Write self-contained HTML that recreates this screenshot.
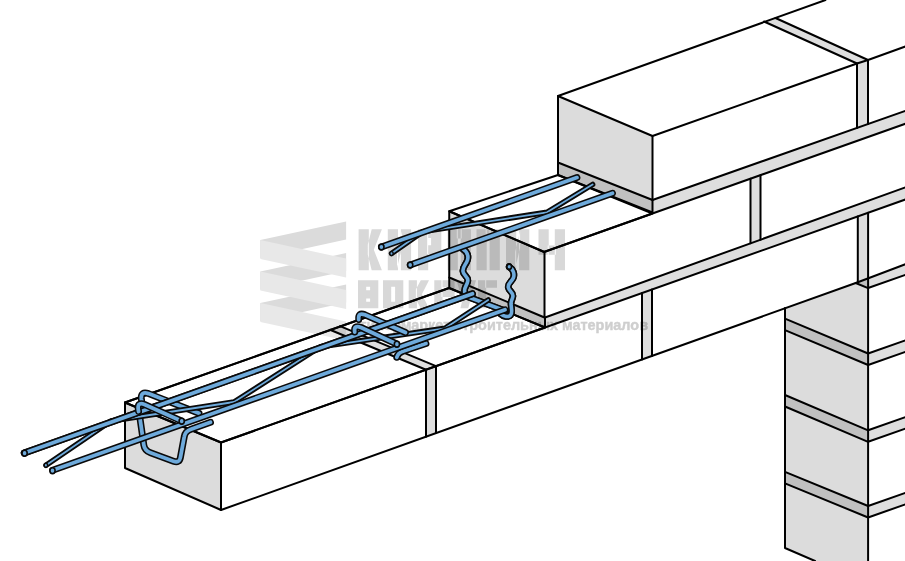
<!DOCTYPE html>
<html><head><meta charset="utf-8"><title>diagram</title>
<style>
html,body{margin:0;padding:0;background:#fff;}
body{width:905px;height:561px;overflow:hidden;font-family:"Liberation Sans",sans-serif;}
svg{display:block;}
</style></head><body>
<svg width="905" height="561" viewBox="0 0 905 561">
<rect width="905" height="561" fill="#fff"/>
<g id="blocks">
<polygon points="125.00,402.50 221.00,442.50 545.00,327.48 449.00,288.00" fill="#fff"/>
<polygon points="125.00,402.50 221.00,442.50 221.00,510.00 125.00,468.00" fill="#dcdcdc"/>
<polygon points="785.00,308.00 857.80,282.30 868.10,278.70 868.10,561.00 815.00,561.00 785.00,548.00" fill="#dcdcdc"/>
<polygon points="785.00,318.70 868.10,353.50 868.10,365.00 785.00,330.20" fill="#c0c0c0"/>
<polygon points="868.10,353.50 905.00,340.11 905.00,351.61 868.10,365.00" fill="#dedede"/>
<polygon points="785.00,395.00 868.10,430.30 868.10,441.80 785.00,406.50" fill="#c0c0c0"/>
<polygon points="868.10,430.30 905.00,416.91 905.00,428.41 868.10,441.80" fill="#dedede"/>
<polygon points="785.00,471.80 868.10,506.00 868.10,517.50 785.00,483.30" fill="#c0c0c0"/>
<polygon points="868.10,506.00 905.00,492.61 905.00,504.11 868.10,517.50" fill="#dedede"/>
<polygon points="868.10,278.70 905.00,264.00 905.00,274.80 868.10,288.00" fill="#dedede"/>
<polygon points="426.00,369.73 436.00,366.18 436.00,433.12 426.00,436.70" fill="#dedede"/>
<polygon points="642.00,293.05 652.00,289.50 652.00,355.89 642.00,359.46" fill="#dedede"/>
<polygon points="857.80,216.44 868.10,212.78 868.10,278.70 857.80,282.30" fill="#dedede"/>
<polygon points="855.70,283.00 868.10,278.70 868.10,288.20" fill="#c0c0c0"/>
<polygon points="426.00,369.73 436.00,366.18 340.00,326.18 330.00,329.73" fill="#dedede"/>
<polygon points="545.00,317.50 905.00,187.50 905.00,199.68 545.00,327.48" fill="#dedede"/>
<polygon points="449.25,277.50 545.00,317.50 545.00,327.48 449.25,288.00" fill="#c0c0c0"/>
<polygon points="449.25,211.25 544.00,252.00 652.50,213.48 558.00,175.00" fill="#fff"/>
<polygon points="449.25,211.25 544.50,252.00 544.50,317.50 449.25,277.50" fill="#dcdcdc"/>
<polygon points="750.50,178.69 760.50,175.14 760.50,239.68 750.50,243.29" fill="#dedede"/>
<polygon points="652.50,200.00 905.00,111.00 905.00,123.84 652.50,213.48" fill="#dedede"/>
<polygon points="558.00,162.50 652.50,200.00 652.50,212.50 558.00,175.00" fill="#c0c0c0"/>
<polygon points="857.00,63.50 868.00,60.00 775.50,18.00 764.00,21.50" fill="#dedede"/>
<polygon points="558.00,96.00 652.50,136.00 652.50,200.00 558.00,162.50" fill="#dcdcdc"/>
<polygon points="857.00,63.50 868.00,60.00 868.00,124.04 857.00,127.92" fill="#dedede"/>
<polygon points="125.00,402.50 221.00,442.50 545.00,327.48 449.00,288.00" fill="none" stroke="#000" stroke-width="2.0" stroke-linejoin="round"/>
<polygon points="125.00,402.50 221.00,442.50 221.00,510.00 125.00,468.00" fill="none" stroke="#000" stroke-width="2.0" stroke-linejoin="round"/>
<polyline points="785.00,318.70 868.10,353.50" fill="none" stroke="#000" stroke-width="2.0" stroke-linecap="round" stroke-linejoin="round"/>
<polyline points="785.00,330.20 868.10,365.00" fill="none" stroke="#000" stroke-width="2.0" stroke-linecap="round" stroke-linejoin="round"/>
<polyline points="868.10,353.50 906.00,340.11" fill="none" stroke="#000" stroke-width="2.0" stroke-linecap="round" stroke-linejoin="round"/>
<polyline points="868.10,365.00 906.00,351.61" fill="none" stroke="#000" stroke-width="2.0" stroke-linecap="round" stroke-linejoin="round"/>
<polyline points="785.00,395.00 868.10,430.30" fill="none" stroke="#000" stroke-width="2.0" stroke-linecap="round" stroke-linejoin="round"/>
<polyline points="785.00,406.50 868.10,441.80" fill="none" stroke="#000" stroke-width="2.0" stroke-linecap="round" stroke-linejoin="round"/>
<polyline points="868.10,430.30 906.00,416.91" fill="none" stroke="#000" stroke-width="2.0" stroke-linecap="round" stroke-linejoin="round"/>
<polyline points="868.10,441.80 906.00,428.41" fill="none" stroke="#000" stroke-width="2.0" stroke-linecap="round" stroke-linejoin="round"/>
<polyline points="785.00,471.80 868.10,506.00" fill="none" stroke="#000" stroke-width="2.0" stroke-linecap="round" stroke-linejoin="round"/>
<polyline points="785.00,483.30 868.10,517.50" fill="none" stroke="#000" stroke-width="2.0" stroke-linecap="round" stroke-linejoin="round"/>
<polyline points="868.10,506.00 906.00,492.61" fill="none" stroke="#000" stroke-width="2.0" stroke-linecap="round" stroke-linejoin="round"/>
<polyline points="868.10,517.50 906.00,504.11" fill="none" stroke="#000" stroke-width="2.0" stroke-linecap="round" stroke-linejoin="round"/>
<polyline points="785.00,308.00 785.00,548.00 815.00,561.00" fill="none" stroke="#000" stroke-width="2.0" stroke-linecap="round" stroke-linejoin="round"/>
<polyline points="868.10,288.00 906.00,274.60" fill="none" stroke="#000" stroke-width="2.0" stroke-linecap="round" stroke-linejoin="round"/>
<polyline points="426.00,369.73 426.00,436.70" fill="none" stroke="#000" stroke-width="2.0" stroke-linecap="round" stroke-linejoin="round"/>
<polyline points="436.00,366.18 436.00,433.12" fill="none" stroke="#000" stroke-width="2.0" stroke-linecap="round" stroke-linejoin="round"/>
<polyline points="642.00,293.05 642.00,359.46" fill="none" stroke="#000" stroke-width="2.0" stroke-linecap="round" stroke-linejoin="round"/>
<polyline points="652.00,289.50 652.00,355.89" fill="none" stroke="#000" stroke-width="2.0" stroke-linecap="round" stroke-linejoin="round"/>
<polyline points="857.80,216.44 857.80,282.30" fill="none" stroke="#000" stroke-width="2.0" stroke-linecap="round" stroke-linejoin="round"/>
<polyline points="855.70,283.00 868.10,288.20" fill="none" stroke="#000" stroke-width="2.0" stroke-linecap="round" stroke-linejoin="round"/>
<polyline points="221.00,510.00 857.80,282.30 906.00,264.00" fill="none" stroke="#000" stroke-width="2.0" stroke-linecap="round" stroke-linejoin="round"/>
<polyline points="868.10,212.78 868.10,562.00" fill="none" stroke="#000" stroke-width="2.0" stroke-linecap="round" stroke-linejoin="round"/>
<polyline points="426.00,369.73 330.00,329.73" fill="none" stroke="#000" stroke-width="2.0" stroke-linecap="round" stroke-linejoin="round"/>
<polyline points="436.00,366.18 340.00,326.18" fill="none" stroke="#000" stroke-width="2.0" stroke-linecap="round" stroke-linejoin="round"/>
<polygon points="449.25,211.25 544.00,252.00 652.50,213.48 558.00,175.00" fill="none" stroke="#000" stroke-width="2.0" stroke-linejoin="round"/>
<polygon points="449.25,211.25 544.50,252.00 544.50,317.50 449.25,277.50" fill="none" stroke="#000" stroke-width="2.0" stroke-linejoin="round"/>
<polyline points="449.25,277.50 449.25,288.00 545.00,327.48 545.00,317.50" fill="none" stroke="#000" stroke-width="2.0" stroke-linecap="round" stroke-linejoin="round"/>
<polyline points="545.00,317.50 906.00,187.20" fill="none" stroke="#000" stroke-width="2.0" stroke-linecap="round" stroke-linejoin="round"/>
<polyline points="221.00,442.50 906.00,199.33" fill="none" stroke="#000" stroke-width="2.0" stroke-linecap="round" stroke-linejoin="round"/>
<polyline points="125.00,402.50 449.25,288.00" fill="none" stroke="#000" stroke-width="2.0" stroke-linecap="round" stroke-linejoin="round"/>
<polyline points="750.50,178.69 750.50,243.29" fill="none" stroke="#000" stroke-width="2.0" stroke-linecap="round" stroke-linejoin="round"/>
<polyline points="760.50,175.14 760.50,239.68" fill="none" stroke="#000" stroke-width="2.0" stroke-linecap="round" stroke-linejoin="round"/>
<polyline points="825.50,0.00 558.00,96.00" fill="none" stroke="#000" stroke-width="2.0" stroke-linecap="round" stroke-linejoin="round"/>
<polyline points="652.50,136.00 857.00,63.50 868.00,60.00 906.00,46.20" fill="none" stroke="#000" stroke-width="2.0" stroke-linecap="round" stroke-linejoin="round"/>
<polyline points="857.00,63.50 764.00,21.50" fill="none" stroke="#000" stroke-width="2.0" stroke-linecap="round" stroke-linejoin="round"/>
<polyline points="868.00,60.00 775.50,18.00" fill="none" stroke="#000" stroke-width="2.0" stroke-linecap="round" stroke-linejoin="round"/>
<polygon points="558.00,96.00 652.50,136.00 652.50,200.00 558.00,162.50" fill="none" stroke="#000" stroke-width="2.0" stroke-linejoin="round"/>
<polyline points="558.00,162.50 558.00,175.00 652.50,212.50 652.50,200.00" fill="none" stroke="#000" stroke-width="2.0" stroke-linecap="round" stroke-linejoin="round"/>
<polyline points="652.50,200.00 906.00,110.60" fill="none" stroke="#000" stroke-width="2.0" stroke-linecap="round" stroke-linejoin="round"/>
<polyline points="544.00,252.00 906.00,123.49" fill="none" stroke="#000" stroke-width="2.0" stroke-linecap="round" stroke-linejoin="round"/>
<polyline points="857.00,63.50 857.00,127.92" fill="none" stroke="#000" stroke-width="2.0" stroke-linecap="round" stroke-linejoin="round"/>
<polyline points="868.00,60.00 868.00,124.04" fill="none" stroke="#000" stroke-width="2.0" stroke-linecap="round" stroke-linejoin="round"/>
</g>
<g id="watermark" style="mix-blend-mode:multiply" aria-label="КИРПИЧ ВОКРУГ — гипермаркет строительных материалов">
<polygon points="346.1,221.6 260.4,240.1 260.4,258.2 346.1,239.6" fill="#dbdbdb"/>
<polygon points="346.1,253.1 260.4,271.6 260.4,289.7 346.1,271.1" fill="#dbdbdb"/>
<polygon points="346.1,284.6 260.4,303.1 260.4,321.2 346.1,302.6" fill="#dbdbdb"/>
<polygon points="260.4,240.1 346.1,258.6 346.1,277.6 260.4,259.1" fill="#e8e8e8"/>
<polygon points="260.4,271.6 346.1,290.1 346.1,309.1 260.4,290.6" fill="#e8e8e8"/>
<polygon points="260.4,303.1 346.1,321.6 346.1,340.6 260.4,322.1" fill="#e8e8e8"/>
<path d="M358.60,229.30h10.20v41.00h-10.20zM367.80,244.80L371.70,229.30L381.90,229.30L373.80,249.80L381.90,270.30L371.70,270.30L367.80,254.80zM387.80,229.30h10.20v41.00h-10.20zM400.90,229.30h10.20v41.00h-10.20zM397.00,268.30L397.00,251.85L401.90,231.30L401.90,247.75zM418.00,229.30h10.20v41.00h-10.20zM427.20,229.30h14.10v24.60h-14.10zM428.20,237.97h2.90v7.26h-2.90zM447.60,229.30h10.20v41.00h-10.20zM460.70,229.30h10.20v41.00h-10.20zM456.80,229.30h4.90v9.18h-4.90zM476.50,229.30h10.20v41.00h-10.20zM489.60,229.30h10.20v41.00h-10.20zM485.70,229.30h4.90v9.18h-4.90zM506.00,229.30h10.20v41.00h-10.20zM519.10,229.30h10.20v41.00h-10.20zM515.20,268.30L515.20,251.85L520.10,231.30L520.10,247.75zM538.50,229.30h10.20v25.42h-10.20zM554.80,229.30h10.20v41.00h-10.20zM547.70,245.54h8.10v9.18h-8.10zM358.00,280.30h20.30v28.00h-20.30zM366.20,286.86h3.90v3.34h-3.90zM366.20,298.40h3.90v3.34h-3.90zM383.00,280.30h20.30v28.00h-20.30zM391.20,286.86h3.90v14.88h-3.90zM408.70,280.30h8.20v28.00h-8.20zM415.90,289.30L420.80,280.30L429.00,280.30L421.90,294.30L429.00,308.30L420.80,308.30L415.90,299.30zM434.30,280.30h8.20v28.00h-8.20zM441.50,280.30h13.10v16.80h-13.10zM442.50,287.27h3.90v2.86h-3.90zM456.50,280.30L464.70,280.30L466.25,294.30L467.80,280.30L476.00,280.30L468.20,308.30L460.40,308.30L462.35,300.46zM478.00,280.30h8.20v28.00h-8.20zM485.20,280.30h11.80v7.38h-11.80z" fill="#d8d8d8" fill-rule="evenodd"/>
<text x="360.5" y="330.2" font-family="Liberation Sans, sans-serif" font-weight="bold" font-size="15" fill="#cfcfcf" stroke="#cfcfcf" stroke-width="0.45" textLength="287.5" lengthAdjust="spacingAndGlyphs">гипермаркет строительных материалов</text>
</g>
<g id="rebar">
<path d="M210.5,422.3 L191,429.2 Q185,431.4 184.3,436.5 L180.4,457.5 Q179.4,463.3 173.5,461.2 L150.5,452.8 Q144.6,450.6 143.8,445 L138.8,410" fill="none" stroke="#0a0a0a" stroke-width="6.9" stroke-linecap="round" stroke-linejoin="round"/>
<path d="M210.5,422.3 L191,429.2 Q185,431.4 184.3,436.5 L180.4,457.5 Q179.4,463.3 173.5,461.2 L150.5,452.8 Q144.6,450.6 143.8,445 L138.8,410" fill="none" stroke="#6eaadb" stroke-width="3.8" stroke-linecap="round" stroke-linejoin="round"/>
<path d="M141.8,402 L141.3,398.5 Q140.8,391 148.5,393.6 L199,413.3" fill="none" stroke="#0a0a0a" stroke-width="6.9" stroke-linecap="round" stroke-linejoin="round"/>
<path d="M141.8,402 L141.3,398.5 Q140.8,391 148.5,393.6 L199,413.3" fill="none" stroke="#6eaadb" stroke-width="3.8" stroke-linecap="round" stroke-linejoin="round"/>
<path d="M464.8,295.7 L505,310.8" fill="none" stroke="#0a0a0a" stroke-width="6.7" stroke-linecap="round" stroke-linejoin="round"/>
<path d="M464.8,295.7 L505,310.8" fill="none" stroke="#6eaadb" stroke-width="3.6" stroke-linecap="round" stroke-linejoin="round"/>
<path d="M462.4,248.6 C466,251 469,255 467.5,260 C466,265 462.3,266.5 463,271.5 C463.7,276 468.5,276.5 467.8,281 C467.2,285 464.5,287 464.6,290.5 L464.8,295.5" fill="none" stroke="#0a0a0a" stroke-width="6.7" stroke-linecap="round" stroke-linejoin="round"/>
<path d="M462.4,248.6 C466,251 469,255 467.5,260 C466,265 462.3,266.5 463,271.5 C463.7,276 468.5,276.5 467.8,281 C467.2,285 464.5,287 464.6,290.5 L464.8,295.5" fill="none" stroke="#6eaadb" stroke-width="3.6" stroke-linecap="round" stroke-linejoin="round"/>
<path d="M509.2,266.8 C513,269 515,274 513.3,278 C511.6,282 507.6,283 508.3,287.5 C509,291.5 513.6,292 512.9,296.5 C512.4,299.5 510.8,301 511,304 L511.6,309.5 Q512.4,317.3 506,316.4 Q502.5,315.8 500.5,313.8" fill="none" stroke="#0a0a0a" stroke-width="6.7" stroke-linecap="round" stroke-linejoin="round"/>
<path d="M509.2,266.8 C513,269 515,274 513.3,278 C511.6,282 507.6,283 508.3,287.5 C509,291.5 513.6,292 512.9,296.5 C512.4,299.5 510.8,301 511,304 L511.6,309.5 Q512.4,317.3 506,316.4 Q502.5,315.8 500.5,313.8" fill="none" stroke="#6eaadb" stroke-width="3.6" stroke-linecap="round" stroke-linejoin="round"/>
<ellipse cx="509.20" cy="266.70" rx="2.33" ry="2.60" fill="#6eaadb" stroke="#0a0a0a" stroke-width="1.6"/>
<path d="M464.8,295.7 L505,310.8" fill="none" stroke="#0a0a0a" stroke-width="6.7" stroke-linecap="round" stroke-linejoin="round"/>
<path d="M464.8,295.7 L505,310.8" fill="none" stroke="#6eaadb" stroke-width="3.6" stroke-linecap="round" stroke-linejoin="round"/>
<path d="M462.4,248.6 C466,251 469,255 467.5,260 C466,265 462.3,266.5 463,271.5 C463.7,276 468.5,276.5 467.8,281 C467.2,285 464.5,287 464.6,290.5 L464.8,295.5" fill="none" stroke="#0a0a0a" stroke-width="6.7" stroke-linecap="round" stroke-linejoin="round"/>
<path d="M462.4,248.6 C466,251 469,255 467.5,260 C466,265 462.3,266.5 463,271.5 C463.7,276 468.5,276.5 467.8,281 C467.2,285 464.5,287 464.6,290.5 L464.8,295.5" fill="none" stroke="#6eaadb" stroke-width="3.6" stroke-linecap="round" stroke-linejoin="round"/>
<path d="M509.2,266.8 C513,269 515,274 513.3,278 C511.6,282 507.6,283 508.3,287.5 C509,291.5 513.6,292 512.9,296.5 C512.4,299.5 510.8,301 511,304 L511.6,309.5 Q512.4,317.3 506,316.4 Q502.5,315.8 500.5,313.8" fill="none" stroke="#0a0a0a" stroke-width="6.7" stroke-linecap="round" stroke-linejoin="round"/>
<path d="M509.2,266.8 C513,269 515,274 513.3,278 C511.6,282 507.6,283 508.3,287.5 C509,291.5 513.6,292 512.9,296.5 C512.4,299.5 510.8,301 511,304 L511.6,309.5 Q512.4,317.3 506,316.4 Q502.5,315.8 500.5,313.8" fill="none" stroke="#6eaadb" stroke-width="3.6" stroke-linecap="round" stroke-linejoin="round"/>
<ellipse cx="509.20" cy="266.70" rx="2.33" ry="2.60" fill="#6eaadb" stroke="#0a0a0a" stroke-width="1.6"/>
<polyline points="46.00,465.30 111.00,421.00 234.00,402.00 320.50,346.80 445.00,328.30 488.20,300.00" fill="none" stroke="#0a0a0a" stroke-width="5.5" stroke-linecap="round" stroke-linejoin="round"/>
<polyline points="46.00,465.30 111.00,421.00 234.00,402.00 320.50,346.80 445.00,328.30 488.20,300.00" fill="none" stroke="#6eaadb" stroke-width="1.8" stroke-linecap="round" stroke-linejoin="round"/>
<polyline points="24.20,453.00 472.50,293.78" fill="none" stroke="#0a0a0a" stroke-width="6.8" stroke-linecap="round" stroke-linejoin="round"/>
<polyline points="24.20,453.00 472.50,293.78" fill="none" stroke="#6eaadb" stroke-width="3.7" stroke-linecap="round" stroke-linejoin="round"/>
<path d="M358.7,319.5 Q358,312 365,314.8 L405.5,332.5" fill="none" stroke="#0a0a0a" stroke-width="6.9" stroke-linecap="round" stroke-linejoin="round"/>
<path d="M358.7,319.5 Q358,312 365,314.8 L405.5,332.5" fill="none" stroke="#6eaadb" stroke-width="3.8" stroke-linecap="round" stroke-linejoin="round"/>
<polyline points="24.20,453.00 472.50,293.78" fill="none" stroke="#0a0a0a" stroke-width="6.8" stroke-linecap="round" stroke-linejoin="round"/>
<polyline points="24.20,453.00 472.50,293.78" fill="none" stroke="#6eaadb" stroke-width="3.7" stroke-linecap="round" stroke-linejoin="round"/>
<path d="M396.8,357.3 Q398,352.8 403,351.2 L426,343.5" fill="none" stroke="#0a0a0a" stroke-width="6.9" stroke-linecap="round" stroke-linejoin="round"/>
<path d="M396.8,357.3 Q398,352.8 403,351.2 L426,343.5" fill="none" stroke="#6eaadb" stroke-width="3.8" stroke-linecap="round" stroke-linejoin="round"/>
<polyline points="52.60,470.30 505.00,309.73" fill="none" stroke="#0a0a0a" stroke-width="6.8" stroke-linecap="round" stroke-linejoin="round"/>
<polyline points="52.60,470.30 505.00,309.73" fill="none" stroke="#6eaadb" stroke-width="3.7" stroke-linecap="round" stroke-linejoin="round"/>
<path d="M138.6,411.5 Q136.3,401.2 144.5,404.4 L181.4,420.9" fill="none" stroke="#0a0a0a" stroke-width="6.9" stroke-linecap="round" stroke-linejoin="round"/>
<path d="M138.6,411.5 Q136.3,401.2 144.5,404.4 L181.4,420.9" fill="none" stroke="#6eaadb" stroke-width="3.8" stroke-linecap="round" stroke-linejoin="round"/>
<ellipse cx="181.70" cy="421.20" rx="2.60" ry="2.90" fill="#6eaadb" stroke="#0a0a0a" stroke-width="1.6"/>
<path d="M354.7,332 Q353.5,324.5 361,327.5 L396.7,344" fill="none" stroke="#0a0a0a" stroke-width="6.9" stroke-linecap="round" stroke-linejoin="round"/>
<path d="M354.7,332 Q353.5,324.5 361,327.5 L396.7,344" fill="none" stroke="#6eaadb" stroke-width="3.8" stroke-linecap="round" stroke-linejoin="round"/>
<ellipse cx="396.90" cy="344.20" rx="2.60" ry="2.90" fill="#6eaadb" stroke="#0a0a0a" stroke-width="1.6"/>
<ellipse cx="24.60" cy="453.20" rx="2.60" ry="2.90" fill="#6eaadb" stroke="#0a0a0a" stroke-width="1.6"/>
<ellipse cx="52.50" cy="470.70" rx="2.60" ry="2.90" fill="#6eaadb" stroke="#0a0a0a" stroke-width="1.6"/>
<ellipse cx="45.90" cy="465.20" rx="1.69" ry="1.90" fill="#6eaadb" stroke="#0a0a0a" stroke-width="1.4"/>
<polyline points="391.50,253.50 423.10,231.60 547.00,212.30 592.60,184.50" fill="none" stroke="#0a0a0a" stroke-width="5.5" stroke-linecap="round" stroke-linejoin="round"/>
<polyline points="391.50,253.50 423.10,231.60 547.00,212.30 592.60,184.50" fill="none" stroke="#6eaadb" stroke-width="1.8" stroke-linecap="round" stroke-linejoin="round"/>
<polyline points="381.40,247.00 577.00,177.56" fill="none" stroke="#0a0a0a" stroke-width="6.8" stroke-linecap="round" stroke-linejoin="round"/>
<polyline points="381.40,247.00 577.00,177.56" fill="none" stroke="#6eaadb" stroke-width="3.7" stroke-linecap="round" stroke-linejoin="round"/>
<polyline points="410.20,265.00 612.50,193.18" fill="none" stroke="#0a0a0a" stroke-width="6.8" stroke-linecap="round" stroke-linejoin="round"/>
<polyline points="410.20,265.00 612.50,193.18" fill="none" stroke="#6eaadb" stroke-width="3.7" stroke-linecap="round" stroke-linejoin="round"/>
<ellipse cx="381.40" cy="247.00" rx="2.60" ry="2.90" fill="#6eaadb" stroke="#0a0a0a" stroke-width="1.6"/>
<ellipse cx="410.20" cy="265.00" rx="2.60" ry="2.90" fill="#6eaadb" stroke="#0a0a0a" stroke-width="1.6"/>
<ellipse cx="391.50" cy="253.50" rx="1.69" ry="1.90" fill="#6eaadb" stroke="#0a0a0a" stroke-width="1.4"/>
</g>
</svg>
</body></html>
